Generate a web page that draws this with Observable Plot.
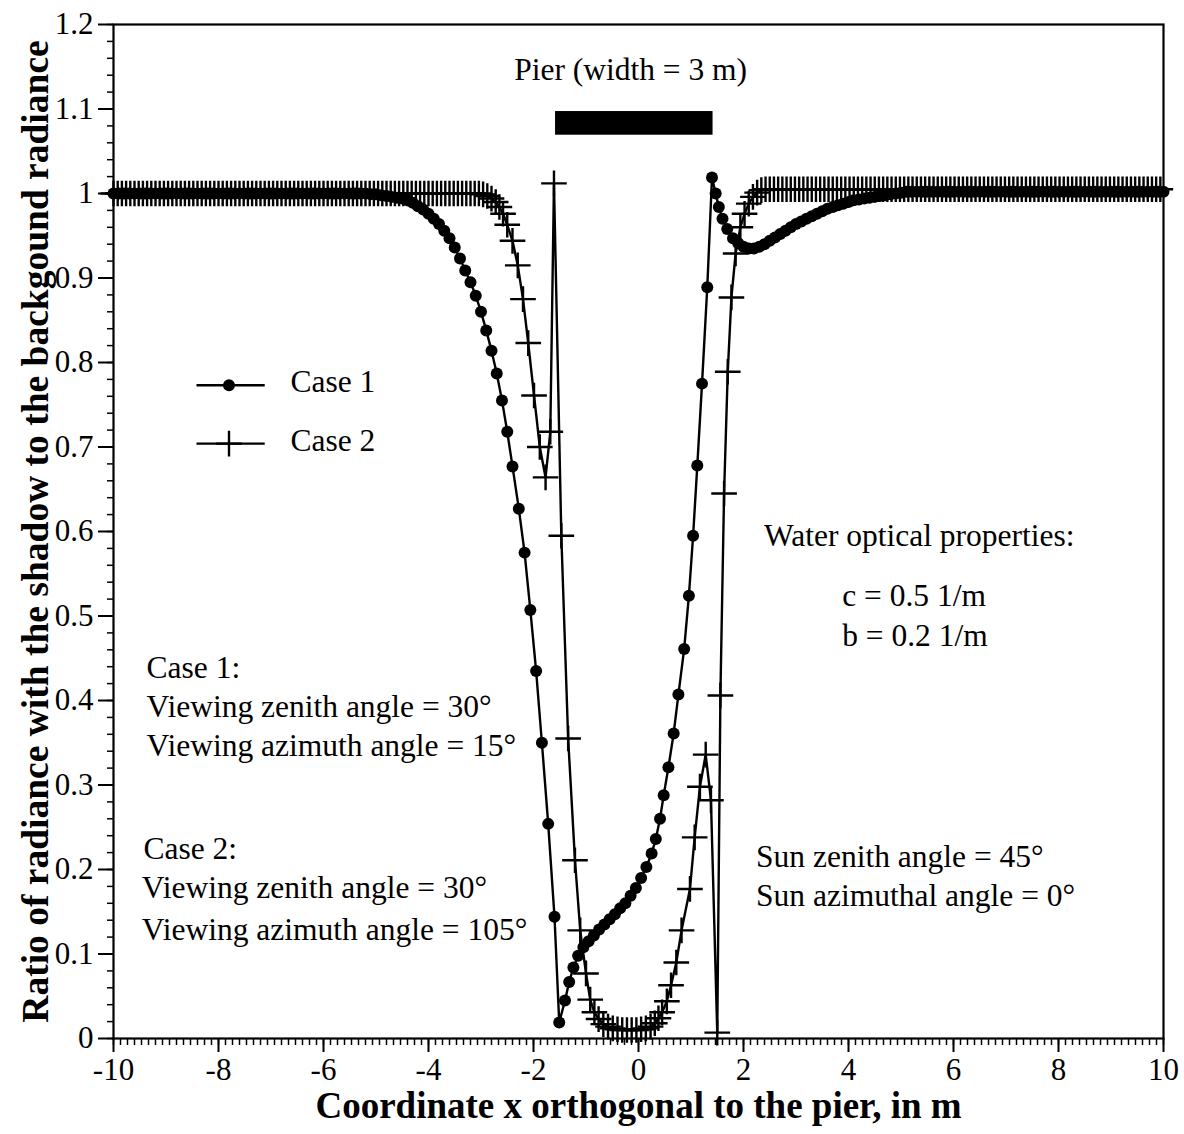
<!DOCTYPE html>
<html><head><meta charset="utf-8">
<script src="https://cdn.jsdelivr.net/npm/d3@7"></script>
<script src="https://cdn.jsdelivr.net/npm/@observablehq/plot@0.6"></script>
<style>body{margin:0;background:#fff}</style>
</head><body><div id="chart"></div>
<script>
// ---- Case 1 (dots): flat left part, sampled every 0.1 m from x = -10
const case1LeftFlat = [
  1,1,1,1,1,1,1,1,1,1,1,1,
  1,1,1,1,1,1,1,1,1,1,1,1,
  1,1,1,1,1,1,1,1,1,1,1,1,
  1,1,1,1,1,1,1,1,1,1,1,1
];
// Case 1 central part [x, ratio]
const case1Mid = [
  [-5.2,1.000],[-5.1,0.999],[-5.0,0.999],[-4.9,0.998],[-4.8,0.997],[-4.7,0.996],[-4.6,0.995],
  [-4.5,0.994],[-4.4,0.992],[-4.3,0.989],[-4.2,0.985],[-4.1,0.981],[-4.0,0.976],[-3.9,0.970],
  [-3.8,0.964],[-3.7,0.956],[-3.6,0.947],[-3.5,0.936],[-3.4,0.923],[-3.3,0.909],[-3.2,0.895],
  [-3.1,0.879],[-3.0,0.860],[-2.9,0.838],[-2.8,0.814],[-2.7,0.787],[-2.6,0.755],[-2.5,0.718],
  [-2.4,0.677],[-2.28,0.627],[-2.17,0.575],[-2.06,0.507],[-1.95,0.435],[-1.84,0.350],
  [-1.72,0.254],[-1.60,0.144],[-1.51,0.019],[-1.40,0.045],[-1.32,0.067],[-1.24,0.084],
  [-1.15,0.098],[-1.05,0.108],[-0.95,0.115],[-0.85,0.122],[-0.75,0.129],[-0.65,0.135],
  [-0.55,0.141],[-0.45,0.147],[-0.35,0.154],[-0.25,0.160],[-0.15,0.169],[-0.05,0.178],
  [0.05,0.190],[0.15,0.203],[0.25,0.219],[0.33,0.236],[0.41,0.260],[0.48,0.288],[0.57,0.321],
  [0.67,0.361],[0.76,0.407],[0.87,0.461],[0.96,0.524],[1.04,0.595],[1.12,0.678],[1.21,0.775],
  [1.31,0.889],[1.40,1.019],[1.47,1.000],[1.53,0.984],[1.60,0.970],[1.69,0.958],[1.80,0.947],
  [1.90,0.941],[2.00,0.937],[2.10,0.935],[2.20,0.935],[2.30,0.937],[2.40,0.940],[2.50,0.944],
  [2.60,0.948],[2.70,0.952],[2.80,0.956],[2.90,0.960],[3.00,0.964],[3.10,0.967],[3.20,0.970],
  [3.30,0.973],[3.40,0.976],[3.50,0.979],[3.60,0.982],[3.70,0.984],[3.80,0.986],[3.90,0.988],
  [4.00,0.990],[4.10,0.992],[4.20,0.993],[4.30,0.994],[4.40,0.995],[4.50,0.996],[4.60,0.997],
  [4.70,0.998],[4.80,0.999],[4.90,1.000],[5.00,1.001]
];
// Case 1 flat right part, sampled every 0.1 m from x = 5.1
const case1RightFlat = [
  1.002,1.002,1.002,1.002,1.002,1.002,1.002,1.002,1.002,1.002,
  1.002,1.002,1.002,1.002,1.002,1.002,1.002,1.002,1.002,1.002,
  1.002,1.002,1.002,1.002,1.002,1.002,1.002,1.002,1.002,1.002,
  1.002,1.002,1.002,1.002,1.002,1.002,1.002,1.002,1.002,1.002,
  1.002,1.002,1.002,1.002,1.002,1.002,1.002,1.002,1.002,1.002
];

// ---- Case 2 (crosses): flat left part, sampled every 0.08 m from x = -10
const case2LeftFlat = [
  1,1,1,1,1,1,1,1,1,1,1,1,
  1,1,1,1,1,1,1,1,1,1,1,1,
  1,1,1,1,1,1,1,1,1,1,1,1,
  1,1,1,1,1,1,1,1,1,1,1,1,
  1,1,1,1,1,1,1,1,1,1,1,1,
  1,1,1,1,1,1,1,1,1,1,1,1,
  1,1,1,1,1,1,1,1,1,1,1,1,
  1,1,1
];
// Case 2 central part [x, ratio]
const case2Mid = [
  [-3.04,1.000],[-2.96,0.999],[-2.88,0.997],[-2.80,0.994],[-2.72,0.990],[-2.65,0.984],
  [-2.58,0.976],[-2.50,0.963],[-2.40,0.944],[-2.30,0.915],[-2.20,0.875],[-2.10,0.823],
  [-1.99,0.761],[-1.88,0.700],[-1.77,0.664],[-1.68,0.718],[-1.61,1.012],[-1.47,0.595],
  [-1.34,0.355],[-1.21,0.211],[-1.11,0.128],[-1.00,0.077],[-0.92,0.046],[-0.84,0.031],
  [-0.76,0.023],[-0.67,0.017],[-0.58,0.014],[-0.49,0.012],[-0.40,0.011],[-0.31,0.010],
  [-0.22,0.010],[-0.13,0.010],[-0.04,0.010],[0.05,0.011],[0.14,0.012],[0.23,0.014],
  [0.31,0.018],[0.38,0.024],[0.45,0.031],[0.54,0.044],[0.62,0.063],[0.72,0.090],
  [0.82,0.128],[0.98,0.177],[1.07,0.238],[1.17,0.298],[1.28,0.336],[1.38,0.282],
  [1.50,0.007],[1.56,0.406],[1.63,0.645],[1.70,0.789],[1.77,0.877],[1.85,0.929],
  [1.94,0.960],[2.02,0.976],[2.10,0.988],[2.18,0.996],[2.26,1.001],[2.34,1.004]
];
// Case 2 flat right part, sampled every 0.08 m from x = 2.42
const case2RightFlat = [
  1.005,1.005,1.005,1.005,1.005,1.005,1.005,1.005,1.005,1.005,
  1.005,1.005,1.005,1.005,1.005,1.005,1.005,1.005,1.005,1.005,
  1.005,1.005,1.005,1.005,1.005,1.005,1.005,1.005,1.005,1.005,
  1.005,1.005,1.005,1.005,1.005,1.005,1.005,1.005,1.005,1.005,
  1.005,1.005,1.005,1.005,1.005,1.005,1.005,1.005,1.005,1.005,
  1.005,1.005,1.005,1.005,1.005,1.005,1.005,1.005,1.005,1.005,
  1.005,1.005,1.005,1.005,1.005,1.005,1.005,1.005,1.005,1.005,
  1.005,1.005,1.005,1.005,1.005,1.005,1.005,1.005,1.005,1.005,
  1.005,1.005,1.005,1.005,1.005,1.005,1.005,1.005,1.005,1.005,
  1.005,1.005,1.005,1.005,1.005
];

// Pier extent (x in m, y in ratio units of the chart)
const pier = [{x1: -1.58, x2: 1.42, y1: 1.069, y2: 1.097}];

// Ticks
const xTicks = [-10, -8, -6, -4, -2, 0, 2, 4, 6, 8, 10];
const xTickLabels = ["-10", "-8", "-6", "-4", "-2", "0", "2", "4", "6", "8", "10"];
const yTicks = [0, 0.1, 0.2, 0.3, 0.4, 0.5, 0.6, 0.7, 0.8, 0.9, 1, 1.1, 1.2];
const yTickLabels = ["0", "0.1", "0.2", "0.3", "0.4", "0.5", "0.6", "0.7", "0.8", "0.9", "1", "1.1", "1.2"];
const xMinor = d3.range(0, 151).map(i => -10 + i * 2 / 15);
const yMinor = d3.range(0, 61).map(i => i * 0.02);

const case1 = [
  ...case1LeftFlat.map((y, i) => ({x: -10 + 0.1 * i, y})),
  ...case1Mid.map(([x, y]) => ({x, y})),
  ...case1RightFlat.map((y, i) => ({x: 5.1 + 0.1 * i, y}))
];
const case2 = [
  ...case2LeftFlat.map((y, i) => ({x: -10 + 0.08 * i, y})),
  ...case2Mid.map(([x, y]) => ({x, y})),
  ...case2RightFlat.map((y, i) => ({x: 2.42 + 0.08 * i, y}))
];

const FS = 31.5;
const note = (t, x, y, extra = {}) =>
  Plot.text([t], {x, y, text: d => d, textAnchor: "start", lineAnchor: "middle", fontSize: FS, ...extra});

const chart = Plot.plot({
  width: 1184,
  height: 1134,
  marginLeft: 113,
  marginRight: 21,
  marginTop: 24,
  marginBottom: 96,
  style: {fontFamily: "'Liberation Serif','Times New Roman',serif", fontSize: "31px", color: "black", background: "white"},
  x: {domain: [-10, 10], label: null},
  y: {domain: [0, 1.2], label: null},
  marks: [
    Plot.axisX({ticks: xMinor, tickSize: 7, fill: "none", strokeWidth: 1.5, label: null}),
    Plot.axisX({ticks: xTicks, tickSize: 14, tickPadding: 5, strokeWidth: 2, label: null,
      tickFormat: d => xTickLabels[xTicks.indexOf(d)], fontSize: 31}),
    Plot.axisY({ticks: yMinor, tickSize: 6, fill: "none", strokeWidth: 1.5, label: null}),
    Plot.axisY({ticks: yTicks, tickSize: 15, tickPadding: 5, strokeWidth: 2, label: null,
      tickFormat: d => yTickLabels[yTicks.findIndex(v => Math.abs(v - d) < 1e-9)], fontSize: 31}),
    Plot.frame({strokeWidth: 2.2}),
    Plot.rect(pier, {x1: "x1", x2: "x2", y1: "y1", y2: "y2", fill: "black"}),
    Plot.line(case1, {x: "x", y: "y", strokeWidth: 2.4}),
    Plot.dot(case1, {x: "x", y: "y", r: 6, fill: "black"}),
    Plot.line(case2, {x: "x", y: "y", strokeWidth: 2.4}),
    Plot.dot(case2, {x: "x", y: "y", symbol: "plus", r: 8.3, strokeWidth: 2.4}),
    // legend
    Plot.ruleY([0.773], {x1: -8.41, x2: -7.11, strokeWidth: 2.4}),
    Plot.dot([0], {x: -7.8, y: 0.773, r: 6, fill: "black"}),
    Plot.ruleY([0.704], {x1: -8.41, x2: -7.11, strokeWidth: 2.4}),
    Plot.dot([0], {x: -7.8, y: 0.704, symbol: "plus", r: 8.3, strokeWidth: 2.4}),
    note("Case 1", -6.63, 0.777),
    note("Case 2", -6.63, 0.707),
    // annotations
    Plot.text(["Pier (width = 3 m)"], {x: -0.15, y: 1.146, text: d => d, fontSize: FS}),
    note("Water optical properties:", 2.39, 0.595),
    note("c = 0.5 1/m", 3.88, 0.524),
    note("b = 0.2 1/m", 3.88, 0.477),
    note("Case 1:", -9.37, 0.439),
    note("Viewing zenith angle = 30°", -9.37, 0.393),
    note("Viewing azimuth angle = 15°", -9.37, 0.346),
    note("Case 2:", -9.43, 0.224),
    note("Viewing zenith angle = 30°", -9.46, 0.178),
    note("Viewing azimuth angle = 105°", -9.46, 0.129),
    note("Sun zenith angle = 45°", 2.24, 0.215),
    note("Sun azimuthal angle = 0°", 2.24, 0.169),
    // axis titles
    Plot.text(["Ratio of radiance with the shadow to the backgound radiance"],
      {frameAnchor: "left", dx: -78, rotate: -90, text: d => d, textAnchor: "middle", lineAnchor: "middle",
       fontWeight: "bold", fontSize: 37.5}),
    Plot.text(["Coordinate x orthogonal to the pier, in m"],
      {frameAnchor: "bottom", dy: 68, text: d => d, textAnchor: "middle", lineAnchor: "middle",
       fontWeight: "bold", fontSize: 37})
  ]
});
document.getElementById("chart").appendChild(chart);
</script>
</body></html>
